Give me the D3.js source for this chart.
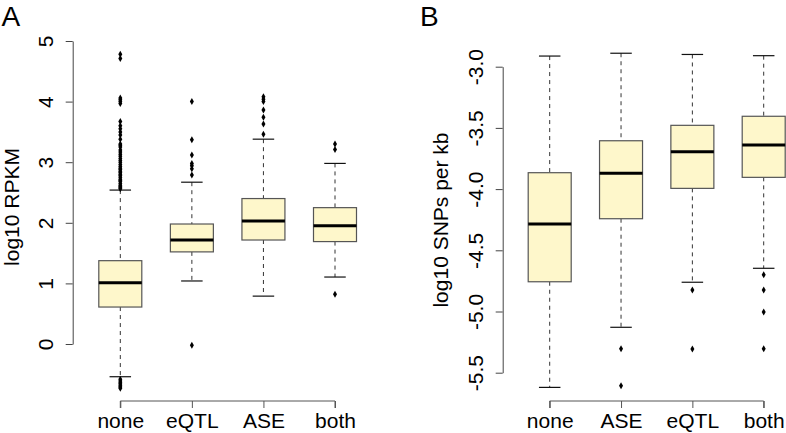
<!DOCTYPE html>
<html><head><meta charset="utf-8">
<script src="https://cdn.jsdelivr.net/npm/d3@7"></script>
<style>body{margin:0;background:#fff}svg{display:block}text{font-family:"Liberation Sans",Arial,sans-serif;fill:#000}</style>
</head><body><svg id="c" width="786" height="433"></svg>
<script>
// Panel A data: log10 RPKM
const catsA = ["none","eQTL","ASE","both"];
const lowA  = [-0.54, 1.04, 0.79, 1.105];
const q1A   = [0.61, 1.52, 1.716, 1.69];
const medA  = [1.01, 1.716, 2.03, 1.95];
const q3A   = [1.375, 1.98, 2.40, 2.25];
const highA = [2.54, 2.67, 3.38, 2.98];
const outA = [
  [-0.58,-0.61,-0.64,-0.66,-0.69,-0.71,-0.73,
   2.56,2.58,2.6,2.62,2.65,2.68,2.7,2.72,2.75,2.78,2.8,2.83,2.85,2.88,2.9,2.93,2.96,
   3.0,3.03,3.06,3.1,3.13,3.17,3.2,3.25,3.28,3.3,3.38,3.45,3.5,3.55,3.6,3.67,
   3.97,4.0,4.03,4.06,4.71,4.78],
  [-0.02,2.79,2.89,2.94,2.98,3.12,3.37,4.0],
  [3.46,3.63,3.74,3.86,4.0,4.04,4.08],
  [0.82,3.21,3.30]
];
const ticksA = [0,1,2,3,4,5];

// Panel B data: log10 SNPs per kb
const catsB = ["none","ASE","eQTL","both"];
const lowB  = [-5.62, -5.129, -4.761, -4.647];
const q1B   = [-4.757, -4.242, -3.994, -3.904];
const medB  = [-4.285, -3.871, -3.694, -3.64];
const q3B   = [-3.866, -3.605, -3.479, -3.405];
const highB = [-2.913, -2.89, -2.90, -2.91];
const outB = [
  [],
  [-5.304,-5.606],
  [-4.824,-5.306],
  [-4.70,-4.824,-5.004,-5.304]
];
const ticksB = [-5.5,-5.0,-4.5,-4.0,-3.5,-3.0];

const svg = d3.select("#c");
const FS = 21;

function panel(cfg){
  const g = svg.append("g");
  const x = d3.scalePoint().domain(cfg.cats).range(cfg.xr);
  const y = d3.scaleLinear().domain(cfg.yd).range(cfg.yr);
  const bw = 43;

  // y axis
  const ya = g.append("g").attr("transform",`translate(${cfg.axX},0)`)
    .call(d3.axisLeft(y).tickValues(cfg.ticks).tickSize(7).tickSizeOuter(0).tickFormat(cfg.fmt));
  ya.attr("font-family",null).attr("font-size",null);
  ya.select(".domain").attr("stroke","#444");
  ya.selectAll(".tick line").attr("stroke","#444");
  ya.selectAll(".tick text").attr("x",null).attr("dy",null)
    .attr("text-anchor","middle").attr("font-size",FS).attr("fill","#000")
    .attr("transform","translate(-20,0) rotate(-90)");

  // x axis
  const xa = g.append("g").attr("transform",`translate(0,${cfg.axY})`)
    .call(d3.axisBottom(x).tickSize(7).tickSizeOuter(0).tickPadding(0));
  xa.attr("font-family",null).attr("font-size",null);
  xa.select(".domain").attr("stroke","#555").attr("d",`M${cfg.xr[0]},7V0H${cfg.xr[1]}V7`);
  xa.selectAll(".tick line").attr("stroke","#555");
  xa.selectAll(".tick text").attr("font-size",FS).attr("fill","#000")
    .attr("y",27).attr("dy",null);

  cfg.cats.forEach((c,i)=>{
    const cx = x(c);
    // whiskers
    g.append("line").attr("x1",cx).attr("x2",cx).attr("y1",y(cfg.high[i])).attr("y2",y(cfg.q3[i]))
      .attr("stroke","#333").attr("stroke-dasharray","4,4");
    g.append("line").attr("x1",cx).attr("x2",cx).attr("y1",y(cfg.q1[i])).attr("y2",y(cfg.low[i]))
      .attr("stroke","#333").attr("stroke-dasharray","4,4");
    // caps
    [cfg.high[i],cfg.low[i]].forEach(v=>{
      g.append("line").attr("x1",cx-bw/4).attr("x2",cx+bw/4).attr("y1",y(v)).attr("y2",y(v))
        .attr("stroke","#111").attr("stroke-width",1.2);
    });
    // box
    g.append("rect").attr("x",cx-bw/2).attr("width",bw)
      .attr("y",y(cfg.q3[i])).attr("height",y(cfg.q1[i])-y(cfg.q3[i]))
      .attr("fill","#fef7cb").attr("stroke","#555").attr("stroke-width",1.2);
    g.append("line").attr("x1",cx-bw/2).attr("x2",cx+bw/2).attr("y1",y(cfg.med[i])).attr("y2",y(cfg.med[i]))
      .attr("stroke","#000").attr("stroke-width",3);
    // outliers
    g.selectAll(null).data(cfg.out[i]).enter().append("path")
      .attr("transform",d=>`translate(${cx},${y(d)})`)
      .attr("d",d3.symbol(d3.symbolDiamond,14)).attr("fill","#000");
  });

  // y title
  g.append("text").attr("font-size",FS).attr("text-anchor","middle")
    .attr("transform",`translate(${cfg.titleX},${cfg.titleY}) rotate(-90)`).text(cfg.title);
  // panel letter
  g.append("text").attr("font-size",28).attr("x",cfg.letterX).attr("y",26).text(cfg.letter);
}

const hyph = f => v => f(v).replace("\u2212","-");

panel({cats:catsA, low:lowA, q1:q1A, med:medA, q3:q3A, high:highA, out:outA, ticks:ticksA,
  fmt:hyph(d3.format("d")), xr:[120.3,335], yd:[0,5], yr:[344,41], axX:72.7, axY:401,
  title:"log10 RPKM", titleX:19, titleY:207, letter:"A", letterX:1.5});
panel({cats:catsB, low:lowB, q1:q1B, med:medB, q3:q3B, high:highB, out:outB, ticks:ticksB,
  fmt:hyph(d3.format(".1f")), xr:[549.7,763.7], yd:[-5.5,-3], yr:[372.7,66.7], axX:502.7, axY:401,
  title:"log10 SNPs per kb", titleX:448, titleY:220, letter:"B", letterX:420});
</script></body></html>
